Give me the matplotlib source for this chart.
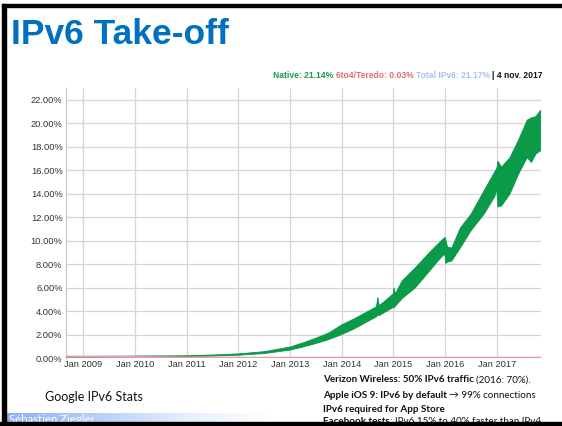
import matplotlib
matplotlib.use("Agg")
import matplotlib.pyplot as plt
import numpy as np
import pandas as pd
from matplotlib.colors import LinearSegmentedColormap
from matplotlib.patches import Rectangle

# ---------------- data ----------------
dates = ["2008-09-01", "2009-01-01", "2009-07-01", "2010-01-01", "2010-07-01",
         "2011-01-01", "2011-07-01", "2012-01-01", "2012-07-01", "2013-01-01",
         "2013-04-01", "2013-07-01", "2013-10-01", "2014-01-01", "2014-04-01",
         "2014-07-01", "2014-09-01", "2014-09-10", "2014-09-20", "2014-11-01",
         "2014-12-28", "2015-01-03", "2015-01-12", "2015-03-01", "2015-06-01",
         "2015-09-01", "2015-12-01", "2015-12-28", "2016-01-03", "2016-01-15",
         "2016-02-15", "2016-04-15", "2016-07-01", "2016-10-01", "2016-12-15",
         "2016-12-30", "2017-01-06", "2017-02-01", "2017-04-01", "2017-06-01",
         "2017-08-01", "2017-09-01", "2017-10-01", "2017-11-04"]
native_low = [0.08, 0.09, 0.11, 0.13, 0.15,
              0.17, 0.21, 0.28, 0.42, 0.72,
              0.98, 1.28, 1.62, 2.05, 2.55,
              3.15, 3.55, 3.70, 3.65, 3.95,
              4.35, 4.30, 4.45, 5.10, 6.00,
              7.30, 8.60, 8.90, 8.10, 8.20,
              8.30, 9.40, 10.90, 12.30, 13.80,
              14.40, 12.90, 13.00, 14.00, 15.70,
              17.10, 16.70, 17.40, 17.70]
native_high = [0.13, 0.14, 0.16, 0.19, 0.21,
               0.23, 0.29, 0.39, 0.58, 0.98,
               1.33, 1.73, 2.18, 2.88, 3.40,
               4.00, 4.40, 5.20, 4.50, 4.90,
               5.50, 6.00, 5.50, 6.60, 7.70,
               8.90, 10.00, 10.30, 10.20, 9.50,
               9.40, 11.10, 12.30, 14.30, 15.90,
               16.20, 16.80, 16.30, 17.10, 18.60,
               20.30, 20.50, 20.60, 21.14]
tunnel_vals = [0.11, 0.10, 0.10, 0.09, 0.07, 0.05, 0.04, 0.03, 0.03, 0.03,
               0.03, 0.03, 0.03, 0.03, 0.03, 0.03, 0.03, 0.03, 0.03, 0.03,
               0.03, 0.03, 0.03, 0.03, 0.03, 0.03, 0.03, 0.03, 0.03, 0.03,
               0.03, 0.03, 0.03, 0.03, 0.03, 0.03, 0.03, 0.03, 0.03, 0.03,
               0.03, 0.03, 0.03, 0.03]

y_ticks = [0, 2, 4, 6, 8, 10, 12, 14, 16, 18, 20, 22]
x_tick_dates = ["2009-01-01", "2010-01-01", "2011-01-01", "2012-01-01", "2013-01-01",
                "2014-01-01", "2015-01-01", "2016-01-01", "2017-01-01"]
x_tick_labels = ["Jan 2009", "Jan 2010", "Jan 2011", "Jan 2012", "Jan 2013",
                 "Jan 2014", "Jan 2015", "Jan 2016", "Jan 2017"]

header_parts = [("Native: 21.14% ", "#199a48"),
                ("6to4/Teredo: 0.03% ", "#e8696b"),
                ("Total IPv6: 21.17% ", "#a4c2f4"),
                ("| 4 nov. 2017", "#111111")]

bullet_lines = [[("Verizon Wireless: 50% IPv6 traffic ", "bold"), ("(2016: 70%).", "normal")],
                [("Apple iOS 9: IPv6 by default ", "bold"), ("\u2192 99% connections", "normal")],
                [("IPv6 required for App Store", "bold")],
                [("Facebook tests", "bold"), (": IPv6 15% to 40% faster than IPv4", "normal")]]

# ---------------- figure ----------------
W, H = 562, 426
fig = plt.figure(figsize=(W / 100, H / 100), dpi=100)
fig.patch.set_facecolor("white")

def fx(px):
    return px / W

def fy(py):
    return 1 - py / H

# chart axes
left, right, top, bottom = 66, 541, 88, 358
ax = fig.add_axes([fx(left), fy(bottom), fx(right - left), (bottom - top) / H])
d = pd.to_datetime(dates)
lo = np.array(native_low)
hi = np.array(native_high)
tun = np.array(tunnel_vals)

ax.fill_between(d, lo + tun, hi + tun, color="#a4c2f4", lw=0, zorder=2)
ax.fill_between(d, lo, hi, color="#0b9a48", lw=0.6, edgecolor="#0b9a48", zorder=3)
ax.plot(d, tun, color="#ef9a9a", lw=1.3, zorder=4)

ax.set_xlim(pd.Timestamp("2008-09-01"), pd.Timestamp("2017-11-10"))
ax.set_ylim(0, 23)
ax.set_yticks(y_ticks)
ax.set_yticklabels([f"{v:.2f}%" for v in y_ticks])
ax.set_xticks(pd.to_datetime(x_tick_dates))
ax.set_xticklabels(x_tick_labels)
ax.tick_params(axis="both", length=0, labelsize=6.7, labelcolor="#333333",
               labelfontfamily="Liberation Sans")
ax.tick_params(axis="y", pad=2.5)
ax.tick_params(axis="x", pad=1.5)
ax.grid(True, color="#d6d6d6", lw=0.9)
ax.set_axisbelow(True)
for s in ["top", "right", "bottom"]:
    ax.spines[s].set_visible(False)
ax.spines["left"].set_color("#cccccc")
ax.spines["left"].set_linewidth(1.0)

# title
fig.text(fx(11), fy(34), "IPv6 Take-off", fontsize=25.5, fontweight="bold",
         color="#0070C0", family="Liberation Sans", va="center", ha="left")

renderer = fig.canvas.get_renderer()

# header legend line (right-aligned at x=543)
objs = []
for txt, col in header_parts:
    t = fig.text(0, fy(75), txt, fontsize=6.15, fontweight="bold", color=col,
                 family="Liberation Sans", va="center", ha="left")
    objs.append(t)
widths = [o.get_window_extent(renderer).width for o in objs]
x = 543 - sum(widths)
for o, w in zip(objs, widths):
    o.set_x(fx(x))
    x += w

# Google IPv6 Stats
fig.text(fx(45), fy(397), "Google IPv6 Stats", fontsize=9, color="#111111",
         family="Lato", va="center", ha="left")

# bullet lines
ys = [380, 395, 409, 422]
for line, yy in zip(bullet_lines, ys):
    x = 323
    for txt, wt in line:
        t = fig.text(fx(x), fy(yy), txt, fontsize=7.1, fontweight=wt, color="#111111",
                     family=["Lato", "DejaVu Sans"], va="center", ha="left")
        x += t.get_window_extent(renderer).width

# footer gradient bar
gax = fig.add_axes([fx(5), fy(422), fx(270), 9 / H])
grad = np.linspace(0, 1, 256)[None, :]
cmap = LinearSegmentedColormap.from_list("g", ["#8fb0f2", "#b8cdf8", "#e6eefd", "#ffffff"])
gax.imshow(grad, aspect="auto", cmap=cmap, extent=[0, 1, 0, 1])
gax.axis("off")
fig.text(fx(9), fy(419.5), "Sébastien Ziegler", fontsize=8.2, color="white",
         family="Lato", va="center", ha="left", zorder=5)

# slide border
fig.patches.append(Rectangle((fx(2), fy(6.5)), 1, 3 / H, transform=fig.transFigure,
                             color="black", zorder=10))
fig.patches.append(Rectangle((fx(2), 0), 4 / W, fy(3.5), transform=fig.transFigure,
                             color="black", zorder=10))
fig.patches.append(Rectangle((0, 0), 1, 4.5 / H, transform=fig.transFigure,
                             color="black", zorder=10))

fig.savefig("out.png", dpi=100, facecolor="white")
